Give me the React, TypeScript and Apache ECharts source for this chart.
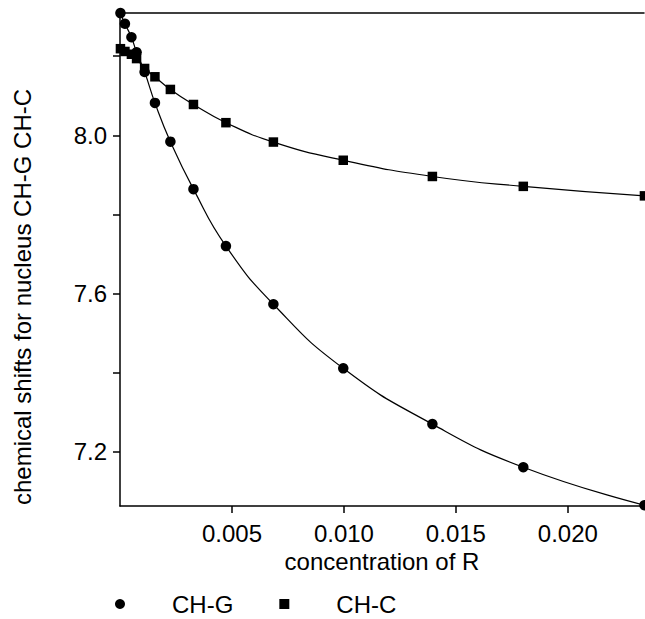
import React, { useEffect, useRef } from "react";
import * as echarts from "echarts";

const concentration = [0.00002, 0.00022, 0.00051, 0.00074, 0.0011, 0.00156, 0.00225, 0.00328, 0.00473, 0.00685, 0.00997, 0.01395, 0.01801, 0.02342];
const chG = [8.309, 8.282, 8.248, 8.21, 8.16, 8.082, 7.984, 7.864, 7.72, 7.573, 7.411, 7.27, 7.161, 7.065];
const chC = [8.219, 8.212, 8.205, 8.194, 8.169, 8.148, 8.116, 8.078, 8.032, 7.983, 7.937, 7.896, 7.871, 7.847];
const xTickValues = [0.005, 0.01, 0.015, 0.02];
const yTickValues = [7.2, 7.4, 7.6, 7.8, 8.0, 8.2];
const yLabelValues = [7.2, 7.6, 8.0];

const FONT = "Liberation Sans, Arial, sans-serif";

export default function App() {
  const ref = useRef<HTMLDivElement>(null);
  useEffect(() => {
    if (!ref.current) return;
    const chart = echarts.init(ref.current, undefined, { renderer: "svg" });
    const pairs = (ys: number[]) => concentration.map((x, i) => [x, ys[i]]);
    chart.setOption({
      animation: false,
      backgroundColor: "#ffffff",
      grid: { left: 120, top: 12.7, right: 1, bottom: 113 },
      xAxis: [
        {
          type: "value",
          min: 0,
          max: 0.0234,
          position: "bottom",
          axisLine: { show: true, lineStyle: { color: "#000", width: 1.5 } },
          axisTick: { show: true, length: 7, lineStyle: { color: "#000", width: 1.5 }, customValues: xTickValues },
          axisLabel: {
            show: true,
            customValues: xTickValues,
            formatter: (v: number) => v.toFixed(3),
            color: "#000",
            fontFamily: FONT,
            fontSize: 24,
            margin: 15,
          },
          splitLine: { show: false },
          name: "concentration of R",
          nameLocation: "middle",
          nameGap: 43,
          nameTextStyle: { color: "#000", fontFamily: FONT, fontSize: 24 },
        },
        {
          type: "value",
          min: 0,
          max: 0.0234,
          position: "top",
          axisLine: { show: true, lineStyle: { color: "#000", width: 1.5 } },
          axisTick: { show: false },
          axisLabel: { show: false },
          splitLine: { show: false },
        },
      ],
      yAxis: {
        type: "value",
        min: 7.063,
        max: 8.31,
        axisLine: { show: true, lineStyle: { color: "#000", width: 1.5 } },
        axisTick: { show: true, length: 7, lineStyle: { color: "#000", width: 1.5 }, customValues: yTickValues },
        axisLabel: {
          show: true,
          customValues: yLabelValues,
          formatter: (v: number) => v.toFixed(1),
          color: "#000",
          fontFamily: FONT,
          fontSize: 24,
          margin: 13,
        },
        splitLine: { show: false },
      },
      legend: {
        left: 110,
        top: 587,
        itemWidth: 10,
        itemHeight: 10,
        itemGap: 46,
        data: [
          { name: "CH-G", icon: "circle" },
          { name: "CH-C", icon: "rect" },
        ],
        textStyle: { color: "#000", fontFamily: FONT, fontSize: 24, padding: [0, 0, 0, 42] },
      },
      graphic: [
        {
          type: "text",
          x: 22,
          y: 297,
          rotation: Math.PI / 2,
          style: {
            text: "chemical shifts for nucleus CH-G CH-C",
            fill: "#000",
            font: `24px ${FONT}`,
            textAlign: "center",
            textVerticalAlign: "middle",
          },
        },
      ],
      series: [
        {
          name: "CH-G",
          type: "line",
          xAxisIndex: 0,
          data: pairs(chG),
          smooth: 0.5,
          symbol: "circle",
          symbolSize: 10.5,
          clip: false,
          itemStyle: { color: "#000" },
          lineStyle: { color: "#000", width: 1.2 },
        },
        {
          name: "CH-C",
          type: "line",
          xAxisIndex: 0,
          data: pairs(chC),
          smooth: 0.5,
          symbol: "rect",
          symbolSize: 9.5,
          clip: false,
          itemStyle: { color: "#000" },
          lineStyle: { color: "#000", width: 1.2 },
        },
      ],
    });
    return () => chart.dispose();
  }, []);
  return <div ref={ref} style={{ position: "fixed", left: 0, top: 0, width: 645, height: 619 }} />;
}
